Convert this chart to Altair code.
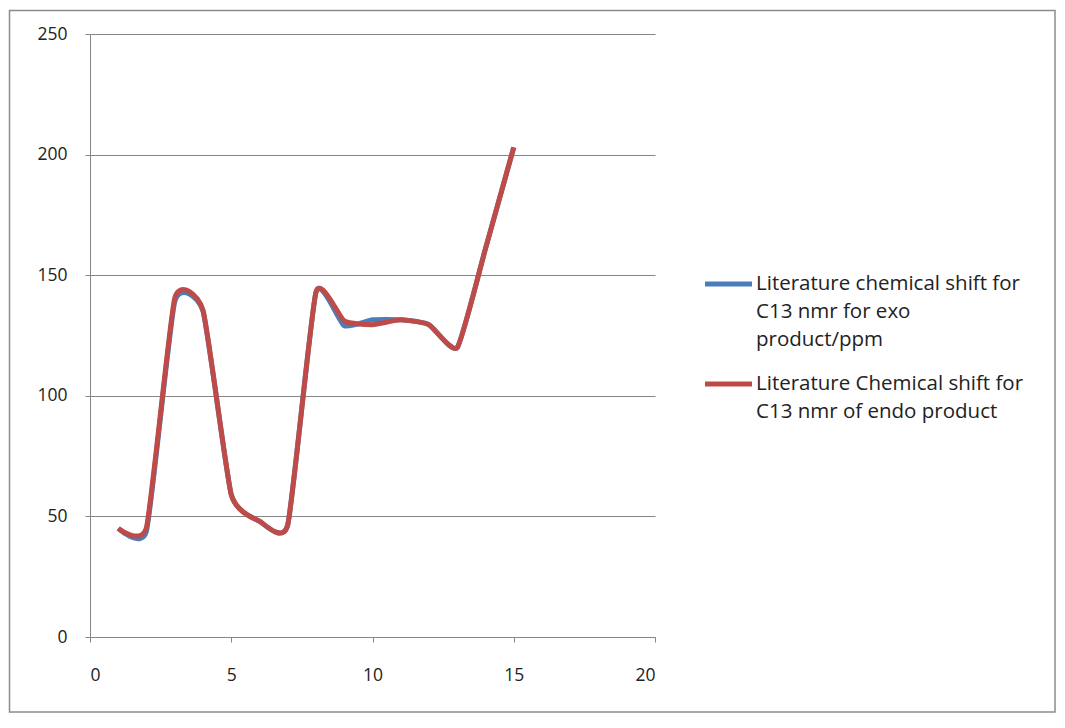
import altair as alt
import pandas as pd

# ---- data ----
x_values = list(range(1, 16))
exo_shift = [45, 44, 139, 135, 59, 48, 46.5, 143, 129, 131.5, 131.5, 129.5, 120, 161, 203]
endo_shift = [45, 45.5, 140.5, 135.5, 59, 48, 46.5, 143, 131, 129.5, 131.5, 129.5, 120, 161, 203]
series_names = [
    "Literature chemical shift for C13 nmr for exo product/ppm",
    "Literature Chemical shift for C13 nmr of endo product",
]
legend_lines = [
    ["Literature chemical shift for", "C13 nmr for exo", "product/ppm"],
    ["Literature Chemical shift for", "C13 nmr of endo product"],
]
series_colors = ["#4A7EBB", "#BE4B48"]
x_ticks = [0, 5, 10, 15, 20]
y_ticks = [0, 50, 100, 150, 200, 250]

FONT = "Open Sans"
AXIS_GRAY = "#868686"

df = pd.DataFrame({
    "x": x_values + x_values,
    "y": exo_shift + endo_shift,
    "series": [series_names[0]] * len(x_values) + [series_names[1]] * len(x_values),
})

W, H = 565, 603

lines = alt.Chart(df).mark_line(interpolate="cardinal", tension=0.5, strokeWidth=5).encode(
    x=alt.X("x:Q", scale=alt.Scale(domain=[0, 20], nice=False),
            axis=alt.Axis(values=x_ticks, title=None, grid=False, domainColor=AXIS_GRAY,
                          tickColor=AXIS_GRAY, tickSize=5, labelFont=FONT, labelFontSize=17.5,
                          labelColor="#222", labelPadding=24)),
    y=alt.Y("y:Q", scale=alt.Scale(domain=[0, 250], nice=False),
            axis=alt.Axis(values=y_ticks, title=None, grid=True, gridColor=AXIS_GRAY,
                          gridWidth=1.2, domainColor=AXIS_GRAY, tickColor=AXIS_GRAY,
                          tickSize=5, labelFont=FONT, labelFontSize=17.5, labelColor="#222",
                          labelPadding=18)),
    color=alt.Color("series:N", scale=alt.Scale(domain=series_names, range=series_colors),
                    legend=None),
    detail="series:N",
)

one = alt.Data(values=[{"k": 1}])

frame = alt.Chart(one).mark_rect(fill=None, stroke="#8c8c8c", strokeWidth=1.5).encode(
    x=alt.value(-80.5), x2=alt.value(965), y=alt.value(-23.5), y2=alt.value(678)
)

legend_layers = []
entry_y = [250, 350]
for i in range(2):
    legend_layers.append(
        alt.Chart(one).mark_rule(color=series_colors[i], strokeWidth=5).encode(
            x=alt.value(615), x2=alt.value(662), y=alt.value(entry_y[i])
        )
    )
    legend_layers.append(
        alt.Chart(one).mark_text(align="left", baseline="middle", font=FONT, fontSize=20.5,
                                 lineHeight=28, color="#222").encode(
            x=alt.value(666), y=alt.value(entry_y[i]), text=alt.value(legend_lines[i])
        )
    )

chart = alt.layer(frame, lines, *legend_layers).properties(
    width=W, height=H,
    autosize=alt.AutoSizeParams(type="none"),
    padding={"left": 82, "top": 26, "right": 401, "bottom": 79},
).configure_view(stroke=None)

chart.save("out.html", embed_options={"renderer": "svg", "actions": False})
